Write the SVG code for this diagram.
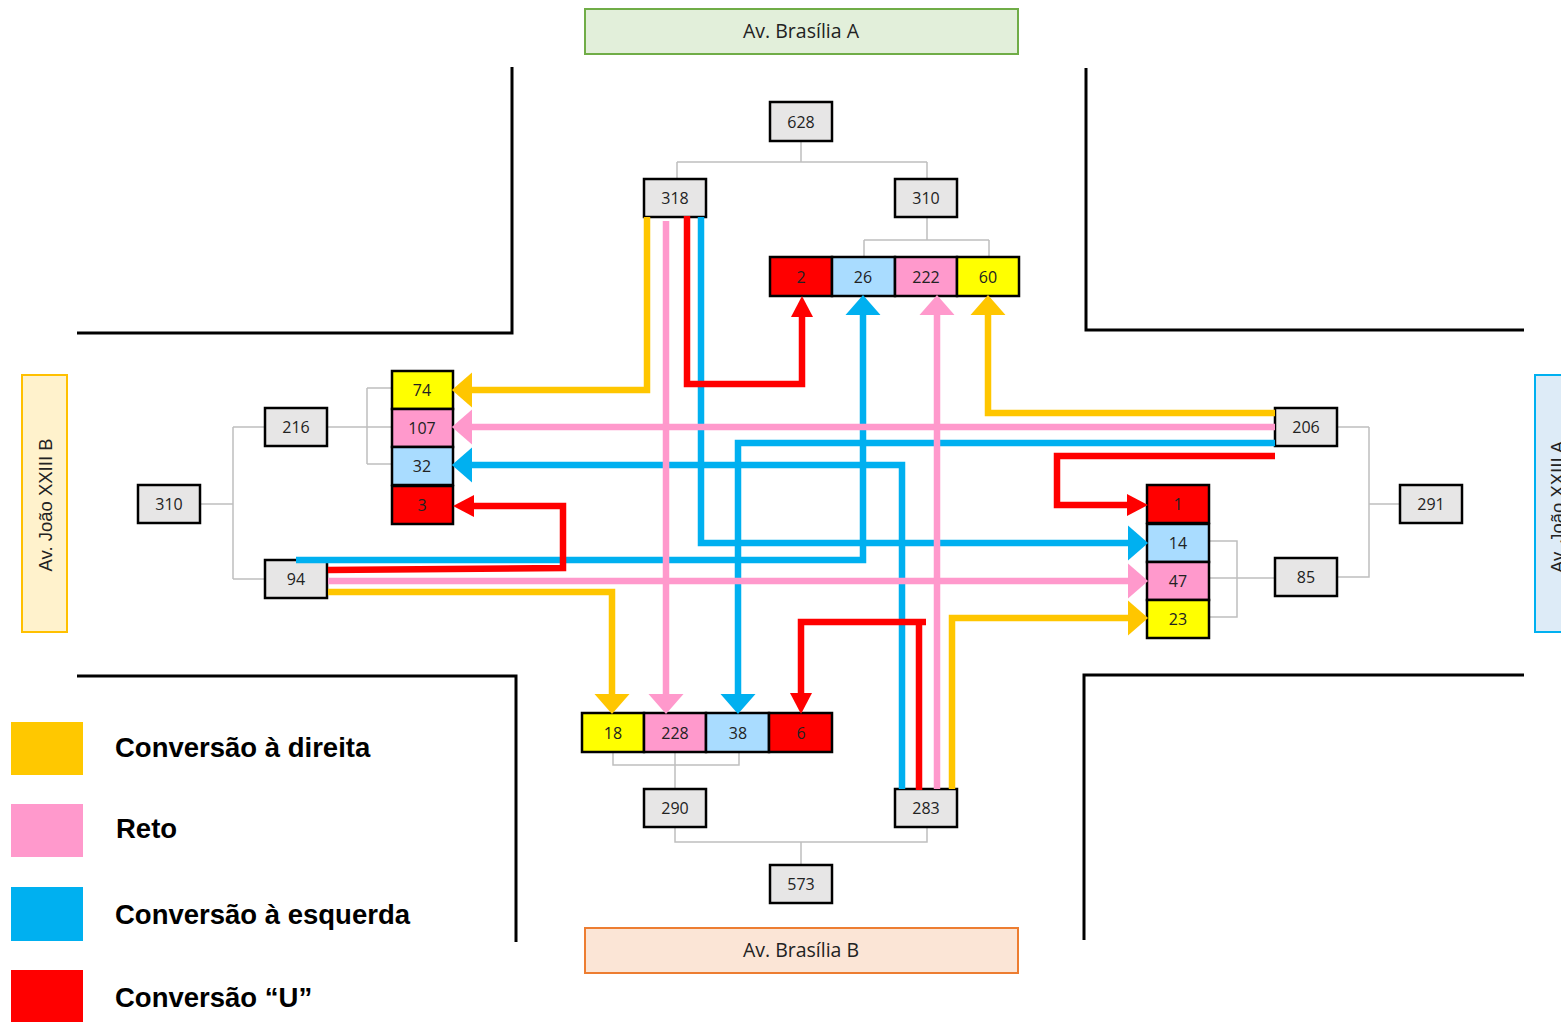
<svg xmlns="http://www.w3.org/2000/svg" width="1561" height="1022" viewBox="0 0 1561 1022">
  <style>
    .street { fill: none; stroke: #000; stroke-width: 3; }
    .tree { fill: none; stroke: #BFBFBF; stroke-width: 1.5; }
    .box { fill: #E7E6E6; stroke: #000; stroke-width: 2.5; }
    .cell { stroke: #000; stroke-width: 2.5; }
    .yl { fill: #FFFF00; }
    .pk { fill: #FF99CC; }
    .bl { fill: #A9DCFF; }
    .rd { fill: #FF0000; }
    .num { font-family: "Open Sans", "Liberation Sans", sans-serif; font-size: 16px; fill: #222; text-anchor: middle; }
    .road { font-family: "Open Sans", "Liberation Sans", sans-serif; font-size: 19.5px; fill: #222; text-anchor: middle; }
    .roadv { font-family: "Liberation Sans", Arial, sans-serif; font-size: 18.5px; fill: #222; text-anchor: middle; }
    .leg { font-family: "Liberation Sans", Arial, sans-serif; font-size: 27.5px; font-weight: bold; fill: #000; }
    .c { fill: none; stroke-width: 6.5; stroke-linejoin: miter; }
    .cy { stroke: #FFC600; }
    .cp { stroke: #FF99CC; }
    .cb { stroke: #00B0F0; }
    .cr { stroke: #FF0000; }
  </style>
  <defs>
    <marker id="ay" markerUnits="userSpaceOnUse" markerWidth="22" markerHeight="36" viewBox="0 -17 20 34" refX="0" refY="0" orient="auto"><path d="M0,-16.5 L19,0 L0,16.5 Z" fill="#FFC600"/></marker>
    <marker id="ap" markerUnits="userSpaceOnUse" markerWidth="22" markerHeight="36" viewBox="0 -17 20 34" refX="0" refY="0" orient="auto"><path d="M0,-16.5 L19,0 L0,16.5 Z" fill="#FF99CC"/></marker>
    <marker id="ab" markerUnits="userSpaceOnUse" markerWidth="22" markerHeight="36" viewBox="0 -17 20 34" refX="0" refY="0" orient="auto"><path d="M0,-16.5 L19,0 L0,16.5 Z" fill="#00B0F0"/></marker>
    <marker id="ar" markerUnits="userSpaceOnUse" markerWidth="22" markerHeight="24" viewBox="0 -11 21 22" refX="0" refY="0" orient="auto"><path d="M0,-10.5 L20,0 L0,10.5 Z" fill="#FF0000"/></marker>
  </defs>

  <rect width="1561" height="1022" fill="#fff"/>

  <!-- kerb lines of the four corners -->
  <g id="streets">
    <path class="street" d="M77,333 H512 V67"/>
    <path class="street" d="M1086,68 V330 H1524"/>
    <path class="street" d="M77,676 H516 V942"/>
    <path class="street" d="M1524,675 H1084 V940"/>
  </g>

  <!-- road names -->
  <g id="road-brasilia-a">
    <rect x="585" y="9" width="433" height="45" fill="#E2EFDA" stroke="#70AD47" stroke-width="2"/>
    <text class="road" x="801" y="38">Av. Brasília A</text>
  </g>
  <g id="road-brasilia-b">
    <rect x="585" y="928" width="433" height="45" fill="#FBE5D6" stroke="#ED7D31" stroke-width="2"/>
    <text class="road" x="801" y="957">Av. Brasília B</text>
  </g>
  <g id="road-joao-b">
    <rect x="22" y="375" width="45" height="257" fill="#FFF2CC" stroke="#FFC000" stroke-width="2"/>
    <text class="roadv" transform="translate(52,505) rotate(-90)">Av. João XXIII B</text>
  </g>
  <g id="road-joao-a">
    <rect x="1535" y="375" width="45" height="257" fill="#DDEBF7" stroke="#00B0F0" stroke-width="2"/>
    <text class="roadv" transform="translate(1564,507) rotate(-90)">Av. João XXIII A</text>
  </g>

  <!-- summation trees -->
  <g id="tree-lines">
    <path class="tree" d="M801,141 V162 M677,162 H927 M677,162 V179 M927,162 V179"/>
    <path class="tree" d="M927,217 V240 M864,240 H989 M864,240 V257 M989,240 V257"/>
    <path class="tree" d="M200,504 H233 M233,427 V579 M233,427 H265 M233,579 H265"/>
    <path class="tree" d="M328,427 H392 M367,388 V464 M367,388 H392 M367,464 H392"/>
    <path class="tree" d="M1337,427 H1369 M1369,427 V577 H1337 M1369,504 H1400"/>
    <path class="tree" d="M1209,541 H1237 V617 H1209 M1209,578 H1275"/>
    <path class="tree" d="M613,752 V765 H739 V752 M675,752 V789"/>
    <path class="tree" d="M675,827 V842 H927 V827 M801,842 V865"/>
  </g>

  <!-- totals -->
  <g id="n628"><rect class="box" x="770" y="102" width="62" height="39"/><text class="num" x="801" y="127.5">628</text></g>
  <g id="n318"><rect class="box" x="644" y="179" width="62" height="38"/><text class="num" x="675" y="204">318</text></g>
  <g id="n310t"><rect class="box" x="895" y="179" width="62" height="38"/><text class="num" x="926" y="204">310</text></g>
  <g id="n216"><rect class="box" x="265" y="408" width="62" height="38"/><text class="num" x="296" y="433">216</text></g>
  <g id="n310l"><rect class="box" x="138" y="485" width="62" height="38"/><text class="num" x="169" y="510">310</text></g>
  <g id="n94"><rect class="box" x="265" y="560" width="62" height="38"/><text class="num" x="296" y="585">94</text></g>
  <g id="n206"><rect class="box" x="1275" y="408" width="62" height="38"/><text class="num" x="1306" y="433">206</text></g>
  <g id="n291"><rect class="box" x="1400" y="485" width="62" height="38"/><text class="num" x="1431" y="510">291</text></g>
  <g id="n85"><rect class="box" x="1275" y="558" width="62" height="38"/><text class="num" x="1306" y="583">85</text></g>
  <g id="n290"><rect class="box" x="644" y="789" width="62" height="38"/><text class="num" x="675" y="814">290</text></g>
  <g id="n283"><rect class="box" x="895" y="789" width="62" height="38"/><text class="num" x="926" y="814">283</text></g>
  <g id="n573"><rect class="box" x="770" y="865" width="62" height="38"/><text class="num" x="801" y="890">573</text></g>

  <!-- movement counts, north approach -->
  <g id="t2"><rect class="cell rd" x="770" y="257" width="62" height="39"/><text class="num" x="801" y="282.5">2</text></g>
  <g id="t26"><rect class="cell bl" x="832" y="257" width="63" height="39"/><text class="num" x="863" y="282.5">26</text></g>
  <g id="t222"><rect class="cell pk" x="895" y="257" width="62" height="39"/><text class="num" x="926" y="282.5">222</text></g>
  <g id="t60"><rect class="cell yl" x="957" y="257" width="62" height="39"/><text class="num" x="988" y="282.5">60</text></g>

  <!-- west approach -->
  <g id="l74"><rect class="cell yl" x="392" y="371" width="61" height="38"/><text class="num" x="422" y="396">74</text></g>
  <g id="l107"><rect class="cell pk" x="392" y="409" width="61" height="38"/><text class="num" x="422" y="434">107</text></g>
  <g id="l32"><rect class="cell bl" x="392" y="447" width="61" height="38"/><text class="num" x="422" y="472">32</text></g>
  <g id="l3"><rect class="cell rd" x="392" y="486" width="61" height="38"/><text class="num" x="422" y="511">3</text></g>

  <!-- east approach -->
  <g id="r1"><rect class="cell rd" x="1147" y="485" width="62" height="38"/><text class="num" x="1178" y="510">1</text></g>
  <g id="r14"><rect class="cell bl" x="1147" y="524" width="62" height="38"/><text class="num" x="1178" y="549">14</text></g>
  <g id="r47"><rect class="cell pk" x="1147" y="562" width="62" height="38"/><text class="num" x="1178" y="587">47</text></g>
  <g id="r23"><rect class="cell yl" x="1147" y="600" width="62" height="38"/><text class="num" x="1178" y="625">23</text></g>

  <!-- south approach -->
  <g id="b18"><rect class="cell yl" x="582" y="713" width="62" height="39"/><text class="num" x="613" y="738.5">18</text></g>
  <g id="b228"><rect class="cell pk" x="644" y="713" width="62" height="39"/><text class="num" x="675" y="738.5">228</text></g>
  <g id="b38"><rect class="cell bl" x="706" y="713" width="63" height="39"/><text class="num" x="738" y="738.5">38</text></g>
  <g id="b6"><rect class="cell rd" x="769" y="713" width="63" height="39"/><text class="num" x="801" y="738.5">6</text></g>

  <!-- turning movements -->
  <g id="connectors">
    <!-- left turns -->
    <path class="c cb" d="M701,217 V543 H1128" marker-end="url(#ab)"/>
    <path class="c cb" d="M1275,443 H738 V694" marker-end="url(#ab)"/>
    <path class="c cb" d="M296,560 H863 V315" marker-end="url(#ab)"/>
    <path class="c cb" d="M902,789 V465 H472" marker-end="url(#ab)"/>
    <!-- straight through -->
    <path class="c cp" d="M666,221 V694" marker-end="url(#ap)"/>
    <path class="c cp" d="M1275,427 H472" marker-end="url(#ap)"/>
    <path class="c cp" d="M328,581 H1128" marker-end="url(#ap)"/>
    <path class="c cp" d="M937,789 V315" marker-end="url(#ap)"/>
    <!-- right turns -->
    <path class="c cy" d="M647,217 V390 H472" marker-end="url(#ay)"/>
    <path class="c cy" d="M1275,413 H988 V315" marker-end="url(#ay)"/>
    <path class="c cy" d="M328,592 H612 V694" marker-end="url(#ay)"/>
    <path class="c cy" d="M952,789 V618 H1128" marker-end="url(#ay)"/>
    <!-- U-turns -->
    <path class="c cr" d="M687,216 V384 H802 V317" marker-end="url(#ar)"/>
    <path class="c cr" d="M1275,456 H1057 V505 H1127" marker-end="url(#ar)"/>
    <path class="c cr" d="M328,570 L563,568 V506 H474" marker-end="url(#ar)"/>
    <path class="c cr" d="M919,790 V622"/>
    <path class="c cr" d="M926,622 H801 V693" marker-end="url(#ar)"/>
  </g>

  <!-- key -->
  <g id="legend">
    <rect x="11" y="722" width="72" height="53" fill="#FFC800"/>
    <rect x="11" y="804" width="72" height="53" fill="#FF99CC"/>
    <rect x="11" y="887" width="72" height="54" fill="#00B0F0"/>
    <rect x="11" y="970" width="72" height="52" fill="#FF0000"/>
    <text class="leg" x="115" y="757">Conversão à direita</text>
    <text class="leg" x="116" y="838">Reto</text>
    <text class="leg" x="115" y="924">Conversão à esquerda</text>
    <text class="leg" x="115" y="1007">Conversão “U”</text>
  </g>
</svg>
